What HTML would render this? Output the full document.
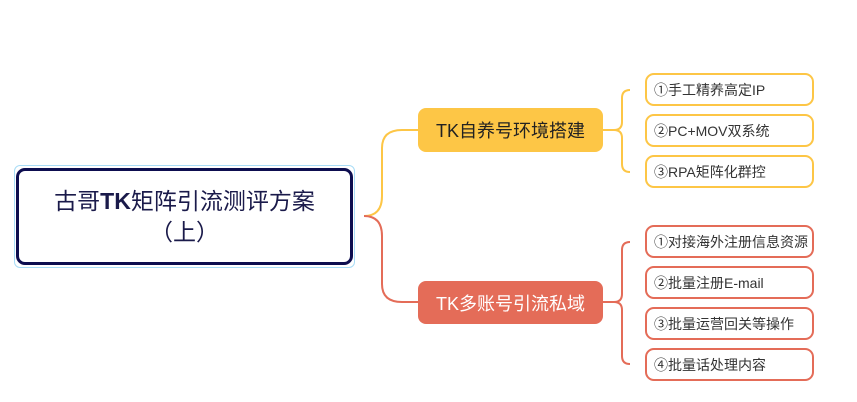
<!DOCTYPE html>
<html><head><meta charset="utf-8"><style>
body{margin:0;width:857px;height:402px;background:#fff;overflow:hidden;position:relative;font-family:"Liberation Sans","Noto Sans CJK SC",sans-serif}
.a{position:absolute;box-sizing:border-box;display:flex;align-items:center}
.s{border:2px solid;border-radius:9px;background:#fff;font-size:14px;color:#333;padding-left:7px;width:169px;height:33px;left:645px}
.y{border-color:#fdc646}.r{border-color:#e46c58}
</style></head><body>
<svg width="857" height="402" style="position:absolute;left:0;top:0" fill="none" stroke-width="2">
<path d="M364 216 Q382 216 382 196 L382 148 Q382 130 402 130 L418 130" stroke="#fdc646"/>
<path d="M364 216 Q382 216 382 236 L382 284 Q382 302 402 302 L418 302" stroke="#e46c58"/>
<path d="M603 130 L614 130 M614 130 Q622 130 622 122 L622 98 Q622 90 630 90 M614 130 Q622 130 622 138 L622 164 Q622 172 630 172" stroke="#fdc646"/>
<path d="M603 302 L614 302 M614 302 Q622 302 622 294 L622 250 Q622 242 630 242 M614 302 Q622 302 622 310 L622 356 Q622 364 630 364" stroke="#e46c58"/>
</svg>
<div class="a" style="left:14px;top:165px;width:341px;height:103px;border:1.5px solid #a8dcf6;border-radius:6px"></div>
<div class="a" style="left:16px;top:168px;width:337px;height:97px;border:3px solid #0d0d4f;border-radius:9px;justify-content:center;font-size:23px;color:#1a1a4a;line-height:31px"><div style="text-align:center">古哥<b>TK</b>矩阵引流测评方案<br>（上）</div></div>
<div class="a" style="left:418px;top:108px;width:185px;height:44px;background:#fdc646;border-radius:8px;justify-content:center;font-size:18px;color:#222">TK自养号环境搭建</div>
<div class="a" style="left:418px;top:281px;width:185px;height:43px;background:#e46c58;border-radius:8px;justify-content:center;font-size:18px;color:#fff">TK多账号引流私域</div>
<div class="a s y" style="top:73px">①手工精养高定IP</div>
<div class="a s y" style="top:114px">②PC+MOV双系统</div>
<div class="a s y" style="top:155px">③RPA矩阵化群控</div>
<div class="a s r" style="top:225px">①对接海外注册信息资源</div>
<div class="a s r" style="top:266px">②批量注册E-mail</div>
<div class="a s r" style="top:307px">③批量运营回关等操作</div>
<div class="a s r" style="top:348px">④批量话处理内容</div>
</body></html>
